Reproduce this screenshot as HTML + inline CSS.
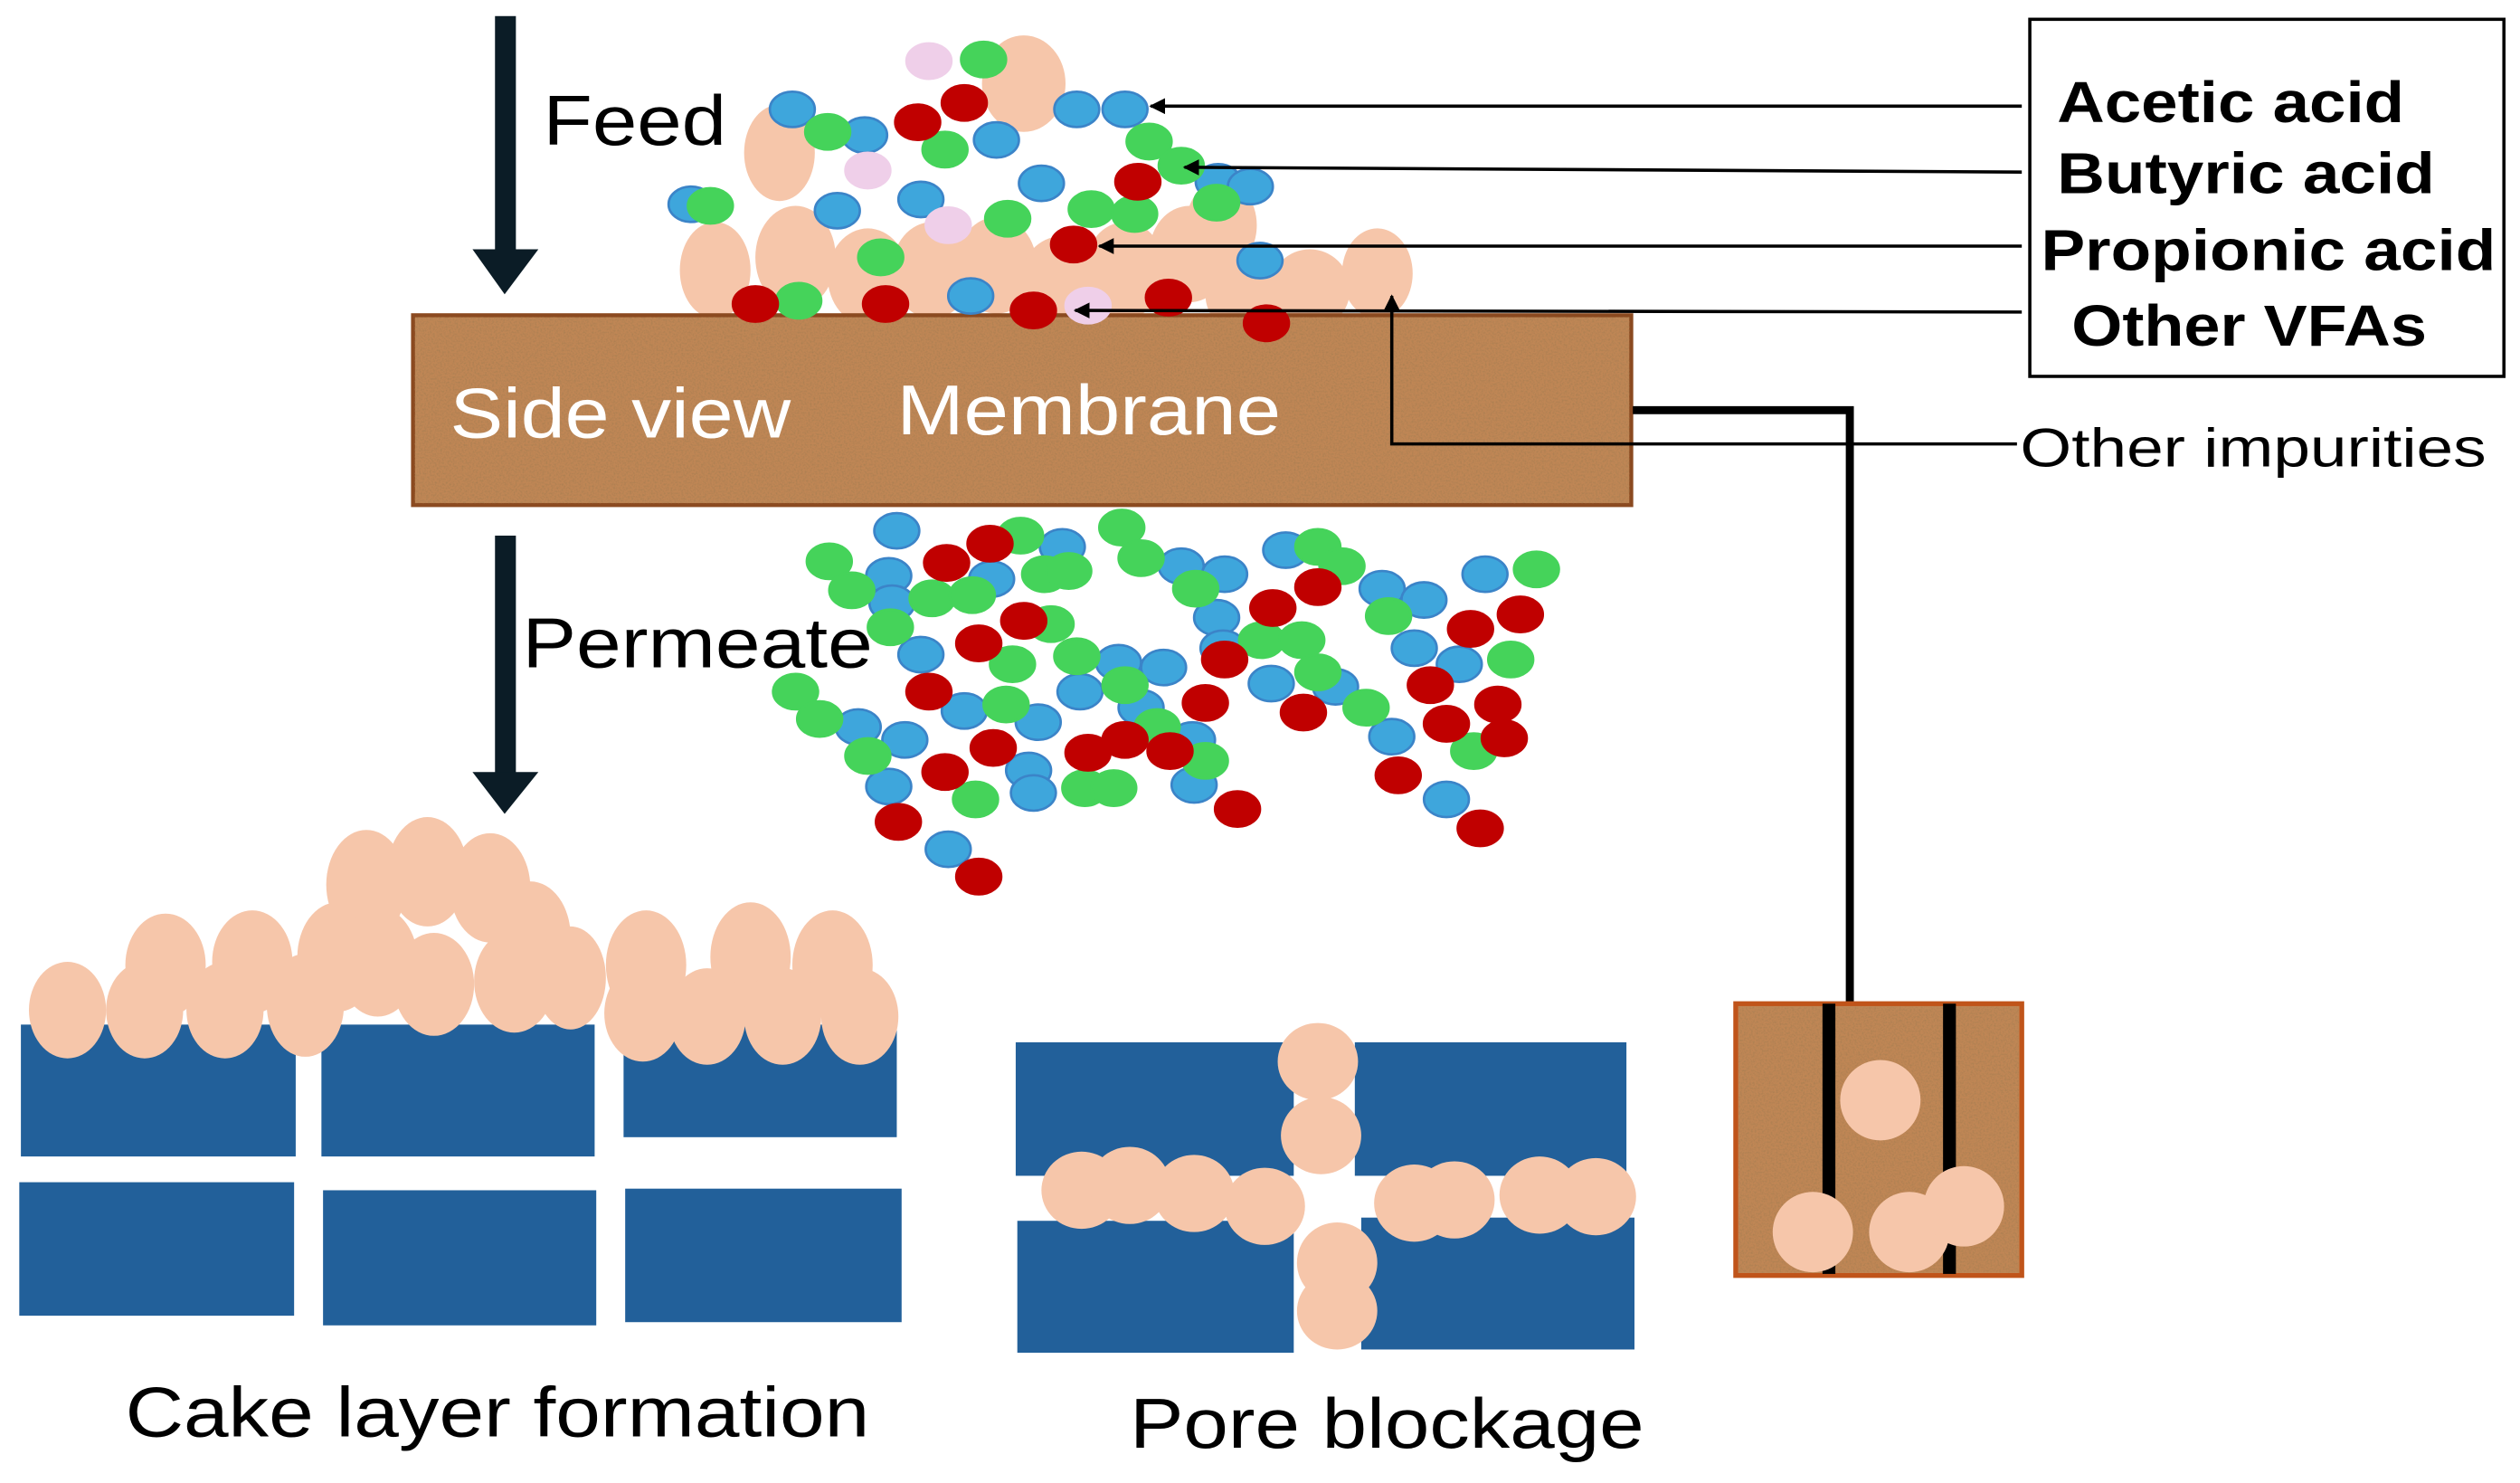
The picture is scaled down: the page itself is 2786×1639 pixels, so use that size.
<!DOCTYPE html>
<html><head><meta charset="utf-8"><style>
html,body{margin:0;padding:0;background:#fff;}
svg{display:block;}
text{font-family:"Liberation Sans",Arial,sans-serif;}
</style></head><body>
<svg width="2786" height="1639" viewBox="0 0 1568 922" preserveAspectRatio="none" xmlns="http://www.w3.org/2000/svg">
<defs>
<filter id="noise" x="0" y="0" width="100%" height="100%" filterUnits="objectBoundingBox">
<feTurbulence type="fractalNoise" baseFrequency="0.9" numOctaves="2" seed="3" result="t"/>
<feColorMatrix in="t" type="matrix" values="0 0 0 0 0.35  0 0 0 0 0.2  0 0 0 0 0.08  0 0 0 -2.2 1.3"/>
</filter>
<marker id="ah" markerWidth="10" markerHeight="10" refX="9" refY="5" orient="auto" markerUnits="userSpaceOnUse"><path d="M0,0 L10,5 L0,10 Z" fill="#000"/></marker>
</defs>

<rect x="308" y="10" width="13" height="150" fill="#0b1c26"/>
<polygon points="294,155 335,155 314,183" fill="#0b1c26"/>
<text x="338" y="90" font-size="44" textLength="114" lengthAdjust="spacingAndGlyphs">Feed</text>

<g fill="#f6c6aa">
<ellipse cx="637" cy="52" rx="26" ry="30"/><ellipse cx="485" cy="95" rx="22" ry="30"/>
<ellipse cx="445" cy="168" rx="22" ry="30"/><ellipse cx="495" cy="160" rx="25" ry="32"/>
<ellipse cx="540" cy="172" rx="25" ry="30"/><ellipse cx="580" cy="168" rx="25" ry="30"/>
<ellipse cx="620" cy="165" rx="25" ry="30"/><ellipse cx="660" cy="175" rx="25" ry="28"/>
<ellipse cx="700" cy="168" rx="25" ry="30"/><ellipse cx="740" cy="158" rx="25" ry="30"/>
<ellipse cx="775" cy="183" rx="25" ry="25"/><ellipse cx="815" cy="180" rx="25" ry="25"/>
<ellipse cx="857" cy="170" rx="22" ry="28"/><ellipse cx="760" cy="140" rx="22" ry="28"/>
</g>

<rect x="257" y="196" width="758" height="118" fill="#bf8655" stroke="#8b4a20" stroke-width="2.5"/>
<rect x="258" y="197" width="756" height="116" filter="url(#noise)" opacity="0.6"/>
<text x="280" y="272" font-size="44" fill="#fff" textLength="212" lengthAdjust="spacingAndGlyphs">Side view</text>
<text x="558" y="270" font-size="44" fill="#fff" textLength="239" lengthAdjust="spacingAndGlyphs">Membrane</text>

<g stroke-width="1.5">
<g fill="#3ea6dc" stroke="#3b84c8">
<ellipse cx="493" cy="68" rx="14" ry="11"/><ellipse cx="538" cy="84" rx="14" ry="11"/><ellipse cx="620" cy="87" rx="14" ry="11"/>
<ellipse cx="670" cy="68" rx="14" ry="11"/><ellipse cx="700" cy="68" rx="14" ry="11"/><ellipse cx="521" cy="131" rx="14" ry="11"/>
<ellipse cx="573" cy="124" rx="14" ry="11"/><ellipse cx="648" cy="114" rx="14" ry="11"/><ellipse cx="784" cy="162" rx="14" ry="11"/>
<ellipse cx="604" cy="184" rx="14" ry="11"/><ellipse cx="758" cy="113" rx="14" ry="11"/><ellipse cx="778" cy="116" rx="14" ry="11"/>
<ellipse cx="430" cy="127" rx="14" ry="11"/>
</g>
<g fill="#45d35a" stroke="#45d35a">
<ellipse cx="612" cy="37" rx="14" ry="11"/><ellipse cx="515" cy="82" rx="14" ry="11"/><ellipse cx="588" cy="93" rx="14" ry="11"/>
<ellipse cx="442" cy="128" rx="14" ry="11"/><ellipse cx="627" cy="136" rx="14" ry="11"/><ellipse cx="679" cy="130" rx="14" ry="11"/>
<ellipse cx="706" cy="133" rx="14" ry="11"/><ellipse cx="757" cy="126" rx="14" ry="11"/><ellipse cx="548" cy="160" rx="14" ry="11"/>
<ellipse cx="497" cy="187" rx="14" ry="11"/><ellipse cx="715" cy="88" rx="14" ry="11"/><ellipse cx="735" cy="103" rx="14" ry="11"/>
</g>
<g fill="#c00000" stroke="#c00000">
<ellipse cx="600" cy="64" rx="14" ry="11"/><ellipse cx="571" cy="76" rx="14" ry="11"/><ellipse cx="708" cy="113" rx="14" ry="11"/>
<ellipse cx="668" cy="152" rx="14" ry="11"/><ellipse cx="470" cy="189" rx="14" ry="11"/><ellipse cx="551" cy="189" rx="14" ry="11"/>
<ellipse cx="643" cy="193" rx="14" ry="11"/><ellipse cx="727" cy="185" rx="14" ry="11"/><ellipse cx="788" cy="201" rx="14" ry="11"/>
</g>
<g fill="#efcfe9" stroke="#efcfe9">
<ellipse cx="578" cy="38" rx="14" ry="11"/><ellipse cx="540" cy="106" rx="14" ry="11"/><ellipse cx="590" cy="140" rx="14" ry="11"/><ellipse cx="677" cy="190" rx="14" ry="11"/>
</g>
</g>

<rect x="1263" y="12" width="295" height="222" fill="#fff" stroke="#000" stroke-width="2"/>
<g font-weight="bold" font-size="36">
<text x="1280" y="76" textLength="216" lengthAdjust="spacingAndGlyphs">Acetic acid</text>
<text x="1280" y="120" textLength="235" lengthAdjust="spacingAndGlyphs">Butyric acid</text>
<text x="1270" y="168" textLength="283" lengthAdjust="spacingAndGlyphs">Propionic acid</text>
<text x="1289" y="215" textLength="221" lengthAdjust="spacingAndGlyphs">Other VFAs</text>
</g>
<g stroke="#000" stroke-width="2" fill="none">
<line x1="1258" y1="66" x2="716" y2="66" marker-end="url(#ah)"/>
<line x1="1258" y1="107" x2="737" y2="104" marker-end="url(#ah)"/>
<line x1="1258" y1="153" x2="684" y2="153" marker-end="url(#ah)"/>
<line x1="1258" y1="194" x2="669" y2="193" marker-end="url(#ah)"/>
<polyline points="1255,276 866,276 866,184" marker-end="url(#ah)"/>
</g>
<text x="1257" y="290" font-size="34" textLength="290" lengthAdjust="spacingAndGlyphs">Other impurities</text>

<polyline points="1016,255 1151,255 1151,623" fill="none" stroke="#000" stroke-width="5"/>

<rect x="308" y="333" width="13" height="150" fill="#0b1c26"/>
<polygon points="294,480 335,480 314,506" fill="#0b1c26"/>

<g stroke-width="1.5">
<g fill="#3ea6dc" stroke="#3b84c8">
<ellipse cx="558" cy="330" rx="14" ry="11"/><ellipse cx="553" cy="358" rx="14" ry="11"/><ellipse cx="555" cy="375" rx="14" ry="11"/>
<ellipse cx="617" cy="360" rx="14" ry="11"/><ellipse cx="661" cy="340" rx="14" ry="11"/><ellipse cx="735" cy="352" rx="14" ry="11"/>
<ellipse cx="762" cy="357" rx="14" ry="11"/><ellipse cx="800" cy="342" rx="14" ry="11"/><ellipse cx="860" cy="366" rx="14" ry="11"/>
<ellipse cx="886" cy="373" rx="14" ry="11"/><ellipse cx="924" cy="357" rx="14" ry="11"/><ellipse cx="757" cy="384" rx="14" ry="11"/>
<ellipse cx="761" cy="403" rx="14" ry="11"/><ellipse cx="573" cy="407" rx="14" ry="11"/><ellipse cx="696" cy="412" rx="14" ry="11"/>
<ellipse cx="724" cy="415" rx="14" ry="11"/><ellipse cx="880" cy="403" rx="14" ry="11"/><ellipse cx="908" cy="413" rx="14" ry="11"/>
<ellipse cx="600" cy="442" rx="14" ry="11"/><ellipse cx="646" cy="449" rx="14" ry="11"/><ellipse cx="672" cy="430" rx="14" ry="11"/>
<ellipse cx="791" cy="425" rx="14" ry="11"/><ellipse cx="831" cy="427" rx="14" ry="11"/><ellipse cx="534" cy="452" rx="14" ry="11"/>
<ellipse cx="563" cy="460" rx="14" ry="11"/><ellipse cx="710" cy="440" rx="14" ry="11"/><ellipse cx="742" cy="460" rx="14" ry="11"/>
<ellipse cx="866" cy="458" rx="14" ry="11"/><ellipse cx="640" cy="479" rx="14" ry="11"/><ellipse cx="643" cy="493" rx="14" ry="11"/>
<ellipse cx="553" cy="489" rx="14" ry="11"/><ellipse cx="743" cy="488" rx="14" ry="11"/><ellipse cx="900" cy="497" rx="14" ry="11"/>
<ellipse cx="590" cy="528" rx="14" ry="11"/>
</g>
<g fill="#45d35a" stroke="#45d35a">
<ellipse cx="516" cy="349" rx="14" ry="11"/><ellipse cx="530" cy="367" rx="14" ry="11"/><ellipse cx="635" cy="333" rx="14" ry="11"/>
<ellipse cx="698" cy="328" rx="14" ry="11"/><ellipse cx="710" cy="347" rx="14" ry="11"/><ellipse cx="650" cy="357" rx="14" ry="11"/>
<ellipse cx="665" cy="355" rx="14" ry="11"/><ellipse cx="580" cy="372" rx="14" ry="11"/><ellipse cx="605" cy="370" rx="14" ry="11"/>
<ellipse cx="744" cy="366" rx="14" ry="11"/><ellipse cx="820" cy="340" rx="14" ry="11"/><ellipse cx="835" cy="352" rx="14" ry="11"/>
<ellipse cx="864" cy="383" rx="14" ry="11"/><ellipse cx="956" cy="354" rx="14" ry="11"/><ellipse cx="554" cy="390" rx="14" ry="11"/>
<ellipse cx="654" cy="388" rx="14" ry="11"/><ellipse cx="670" cy="408" rx="14" ry="11"/><ellipse cx="630" cy="413" rx="14" ry="11"/>
<ellipse cx="785" cy="398" rx="14" ry="11"/><ellipse cx="810" cy="398" rx="14" ry="11"/><ellipse cx="820" cy="418" rx="14" ry="11"/>
<ellipse cx="940" cy="410" rx="14" ry="11"/><ellipse cx="495" cy="430" rx="14" ry="11"/><ellipse cx="510" cy="447" rx="14" ry="11"/>
<ellipse cx="540" cy="470" rx="14" ry="11"/><ellipse cx="626" cy="438" rx="14" ry="11"/><ellipse cx="700" cy="426" rx="14" ry="11"/>
<ellipse cx="720" cy="452" rx="14" ry="11"/><ellipse cx="750" cy="473" rx="14" ry="11"/><ellipse cx="850" cy="440" rx="14" ry="11"/>
<ellipse cx="917" cy="467" rx="14" ry="11"/><ellipse cx="607" cy="497" rx="14" ry="11"/><ellipse cx="675" cy="490" rx="14" ry="11"/>
<ellipse cx="693" cy="490" rx="14" ry="11"/>
</g>
<g fill="#c00000" stroke="#c00000">
<ellipse cx="589" cy="350" rx="14" ry="11"/><ellipse cx="616" cy="338" rx="14" ry="11"/><ellipse cx="637" cy="386" rx="14" ry="11"/>
<ellipse cx="609" cy="400" rx="14" ry="11"/><ellipse cx="792" cy="378" rx="14" ry="11"/><ellipse cx="820" cy="365" rx="14" ry="11"/>
<ellipse cx="915" cy="391" rx="14" ry="11"/><ellipse cx="946" cy="382" rx="14" ry="11"/><ellipse cx="762" cy="410" rx="14" ry="11"/>
<ellipse cx="578" cy="430" rx="14" ry="11"/><ellipse cx="750" cy="437" rx="14" ry="11"/><ellipse cx="890" cy="426" rx="14" ry="11"/>
<ellipse cx="932" cy="438" rx="14" ry="11"/><ellipse cx="936" cy="459" rx="14" ry="11"/><ellipse cx="900" cy="450" rx="14" ry="11"/>
<ellipse cx="618" cy="465" rx="14" ry="11"/><ellipse cx="588" cy="480" rx="14" ry="11"/><ellipse cx="677" cy="468" rx="14" ry="11"/>
<ellipse cx="700" cy="460" rx="14" ry="11"/><ellipse cx="728" cy="467" rx="14" ry="11"/><ellipse cx="811" cy="443" rx="14" ry="11"/>
<ellipse cx="870" cy="482" rx="14" ry="11"/><ellipse cx="559" cy="511" rx="14" ry="11"/><ellipse cx="770" cy="503" rx="14" ry="11"/>
<ellipse cx="921" cy="515" rx="14" ry="11"/><ellipse cx="609" cy="545" rx="14" ry="11"/>
</g>
</g>
<text x="325" y="415" font-size="44" textLength="218" lengthAdjust="spacingAndGlyphs">Permeate</text>

<g fill="#22609a">
<rect x="13" y="637" width="171" height="82"/><rect x="200" y="637" width="170" height="82"/><rect x="388" y="637" width="170" height="70"/>
<rect x="12" y="735" width="171" height="83"/><rect x="201" y="740" width="170" height="84"/><rect x="389" y="739" width="172" height="83"/>
</g>
<g fill="#f6c6aa">
<ellipse cx="42" cy="628" rx="24" ry="30"/><ellipse cx="90" cy="628" rx="24" ry="30"/><ellipse cx="140" cy="628" rx="24" ry="30"/>
<ellipse cx="190" cy="625" rx="24" ry="32"/><ellipse cx="103" cy="600" rx="25" ry="32"/><ellipse cx="157" cy="598" rx="25" ry="32"/>
<ellipse cx="210" cy="595" rx="25" ry="34"/><ellipse cx="228" cy="550" rx="25" ry="34"/><ellipse cx="266" cy="542" rx="25" ry="34"/>
<ellipse cx="305" cy="552" rx="25" ry="34"/><ellipse cx="330" cy="582" rx="25" ry="34"/><ellipse cx="235" cy="598" rx="25" ry="34"/>
<ellipse cx="270" cy="612" rx="25" ry="32"/><ellipse cx="320" cy="610" rx="25" ry="32"/><ellipse cx="355" cy="608" rx="22" ry="32"/>
<ellipse cx="402" cy="600" rx="25" ry="34"/><ellipse cx="467" cy="595" rx="25" ry="34"/><ellipse cx="518" cy="600" rx="25" ry="34"/>
<ellipse cx="400" cy="630" rx="24" ry="30"/><ellipse cx="440" cy="632" rx="24" ry="30"/><ellipse cx="487" cy="632" rx="24" ry="30"/>
<ellipse cx="535" cy="632" rx="24" ry="30"/>
</g>
<text x="78" y="893" font-size="44" textLength="463" lengthAdjust="spacingAndGlyphs">Cake layer formation</text>

<g fill="#22609a">
<rect x="632" y="648" width="173" height="83"/><rect x="843" y="648" width="169" height="83"/>
<rect x="633" y="759" width="172" height="82"/><rect x="847" y="757" width="170" height="82"/>
</g>
<g fill="#f6c6aa">
<ellipse cx="820" cy="660" rx="25" ry="24"/><ellipse cx="822" cy="706" rx="25" ry="24"/>
<ellipse cx="832" cy="785" rx="25" ry="25"/><ellipse cx="832" cy="815" rx="25" ry="24"/>
<ellipse cx="673" cy="740" rx="25" ry="24"/><ellipse cx="703" cy="737" rx="25" ry="24"/><ellipse cx="743" cy="742" rx="25" ry="24"/>
<ellipse cx="787" cy="750" rx="25" ry="24"/><ellipse cx="880" cy="748" rx="25" ry="24"/><ellipse cx="905" cy="746" rx="25" ry="24"/>
<ellipse cx="958" cy="743" rx="25" ry="24"/><ellipse cx="993" cy="744" rx="25" ry="24"/>
</g>
<text x="703" y="900" font-size="44" textLength="320" lengthAdjust="spacingAndGlyphs">Pore blockage</text>

<rect x="1080" y="624" width="178" height="169" fill="#bf8655" stroke="#c0541a" stroke-width="3"/>
<rect x="1082" y="626" width="174" height="165" filter="url(#noise)" opacity="0.6"/>
<rect x="1134" y="624" width="8" height="168" fill="#000"/>
<rect x="1209" y="624" width="8" height="168" fill="#000"/>
<g fill="#f6c6aa">
<ellipse cx="1170" cy="684" rx="25" ry="25"/><ellipse cx="1128" cy="766" rx="25" ry="25"/>
<ellipse cx="1188" cy="766" rx="25" ry="25"/><ellipse cx="1222" cy="750" rx="25" ry="25"/>
</g>
</svg>
</body></html>
